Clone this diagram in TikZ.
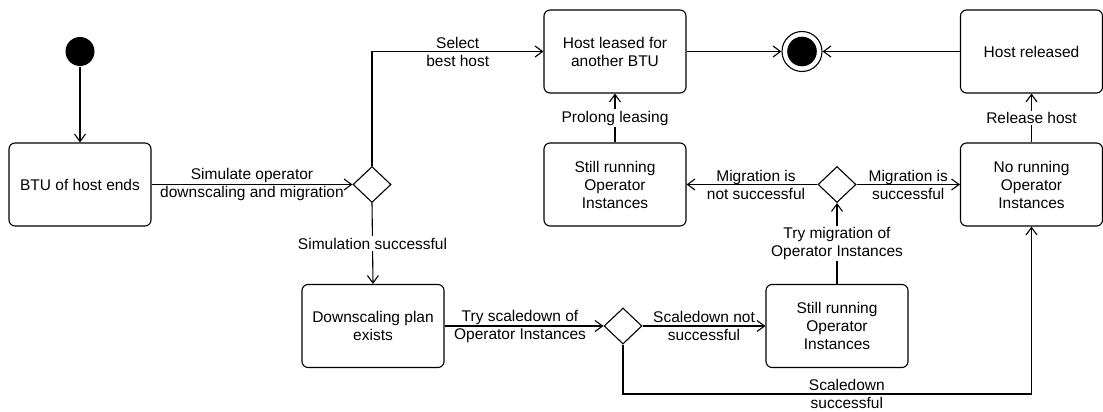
\documentclass[tikz,border=0pt]{standalone}
\usepackage{fontspec}
\setmainfont{Liberation Sans}
\usetikzlibrary{arrows.meta,shapes.geometric}
\begin{document}
\begin{tikzpicture}[x=1pt,y=-1pt,
  line width=1.1pt,
  every node/.style={font=\fontsize{15.5}{18}\selectfont},
  state/.style={draw,rounded corners=6pt,minimum width=142pt,minimum height=83pt,
    align=center,inner sep=2pt},
  choice/.style={draw,diamond,minimum width=38pt,minimum height=36pt,inner sep=0pt},
  flow/.style={-{Straight Barb[length=7.5pt,width=11pt]}},
  hlabel/.style={align=center,inner sep=1pt},
  vlabel/.style={align=center,inner sep=1.5pt,fill=white}]
\useasboundingbox (0,0) rectangle (1103,412);

% start and end
\node[circle,fill=black,minimum size=29pt,inner sep=0pt] (init) at (80,51.5) {};
\node[circle,draw,minimum size=40pt,inner sep=0pt] (fin) at (802,51.5) {};
\fill (fin.center) circle (14.8pt);

% states
\node[state] (btu)      at (80,184.5)   {BTU of host ends};
\node[state] (leased)   at (615,51.5)   {Host leased for\\another BTU};
\node[state] (released) at (1031.5,51.5){Host released};
\node[state] (stillA)   at (615,184.5)  {Still running\\Operator\\Instances};
\node[state] (norun)    at (1031.5,184.5){No running\\Operator\\Instances};
\node[state] (plan)     at (373,326)    {Downscaling plan\\exists};
\node[state] (stillB)   at (837,326)    {Still running\\Operator\\Instances};

% decisions
\node[choice] (d1) at (372,184.5) {};
\node[choice] (d2) at (837,184.5) {};
\node[choice] (d3) at (623,326) {};

\coordinate (lowturn) at (1031.5,394);

% transitions
\draw[flow] (init) -- (btu);
\draw[flow] (btu.east) -- node[hlabel]{Simulate operator\\downscaling and migration} (d1.west);
\draw[flow] (d1.north) |- node[hlabel,pos=0.75]{Select\\best host} (leased.west);
\draw[flow] (d1.south) -- node[vlabel]{Simulation successful} (plan.north);
\draw[flow] (plan.east) -- node[hlabel,xshift=-4pt]{Try scaledown of\\Operator Instances} (d3.west);
\draw[flow] (d3.east) -- node[hlabel]{Scaledown not\\successful} (stillB.west);
\draw[flow] (d3.south) |- node[hlabel,pos=0.774]{Scaledown\\successful} (lowturn) -- (norun.south);
\draw[flow] (stillB.north) -- node[vlabel]{Try migration of\\Operator Instances} (d2.south);
\draw[flow] (d2.west) -- node[hlabel,xshift=4pt]{Migration is\\not successful} (stillA.east);
\draw[flow] (d2.east) -- node[hlabel]{Migration is\\successful} (norun.west);
\draw[flow] (stillA.north) -- node[vlabel]{Prolong leasing} (leased.south);
\draw[flow] (norun.north) -- node[vlabel]{Release host} (released.south);
\draw[flow] (leased.east) -- (fin.west);
\draw[flow] (released.west) -- (fin.east);
\end{tikzpicture}
\end{document}
